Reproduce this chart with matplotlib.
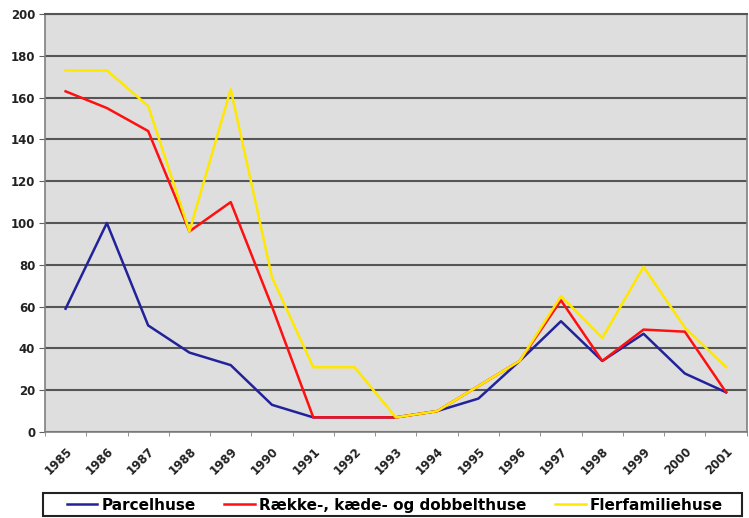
import matplotlib.pyplot as plt
from matplotlib.patches import Rectangle
import numpy as np


# Years on the category axis
years = [
    "1985", "1986", "1987", "1988", "1989", "1990",
    "1991", "1992", "1993", "1994", "1995", "1996",
    "1997", "1998", "1999", "2000", "2001"
]

# Series values
parcelhuse = [
    59, 100, 51, 38, 32, 13, 7, 7, 7,
    10, 16, 34, 53, 34, 47, 28, 19
]

raekkehuse = [
    163, 155, 144, 96, 110, 60, 7, 7, 7,
    10, 22, 34, 63, 34, 49, 48, 19
]

flerfamiliehuse = [
    173, 173, 156, 96, 164, 74, 31, 31, 7,
    10, 22, 34, 65, 45, 79, 50, 31
]

series_names = [
    "Parcelhuse",
    "Række-, kæde- og dobbelthuse",
    "Flerfamiliehuse"
]

y_ticks = list(range(0, 201, 20))


def draw_chart():
    """
    Draw the three housing
    series as an Excel-style
    line chart.
    """

    fig = plt.figure(
        figsize=(7.49, 5.18),
        dpi=100
    )

    ax = fig.add_axes(
        [0.060, 0.166, 0.937, 0.807]
    )

    # Dithered grey plot area
    ax.set_facecolor("#dedede")

    x = np.arange(len(years))

    colors = ["#22229a", "#ff1010", "#ffe800"]
    values = [parcelhuse, raekkehuse, flerfamiliehuse]

    for vals, color, name in zip(
        values, colors, series_names
    ):
        ax.plot(
            x,
            vals,
            color=color,
            linewidth=1.8,
            label=name,
            zorder=3
        )

    ax.set_xlim(-0.5, len(years) - 0.5)
    ax.set_ylim(0, 200)

    ax.set_yticks(y_ticks)
    ax.set_yticklabels(
        [str(v) for v in y_ticks],
        fontsize=8.5,
        fontweight="bold",
        color="#222222"
    )

    # Labels at category centres,
    # ticks between categories
    ax.set_xticks(x)
    ax.set_xticklabels(
        years,
        rotation=45,
        ha="right",
        rotation_mode="anchor",
        fontsize=8.5,
        fontweight="bold",
        color="#222222"
    )
    ax.set_xticks(
        np.arange(-0.5, len(years), 1.0),
        minor=True
    )
    ax.tick_params(
        axis="x",
        which="major",
        length=0,
        pad=9
    )
    ax.tick_params(
        axis="x",
        which="minor",
        length=3,
        color="#808080"
    )
    ax.tick_params(
        axis="y",
        length=4,
        color="#606060",
        pad=3
    )

    ax.yaxis.grid(
        True,
        color="#555555",
        linewidth=1.5
    )
    ax.set_axisbelow(True)

    for side in ["left", "right", "bottom"]:
        ax.spines[side].set_color("#808080")
        ax.spines[side].set_linewidth(1.2)
    ax.spines["top"].set_color("#555555")
    ax.spines["top"].set_linewidth(1.5)

    # Legend entries, frame drawn separately
    fig.legend(
        loc="center",
        bbox_to_anchor=(0.527, 0.025),
        ncol=3,
        prop={"size": 11, "weight": "bold"},
        frameon=False,
        handlelength=2.0,
        handletextpad=0.25,
        columnspacing=1.9,
        borderpad=0
    )

    fig.add_artist(
        Rectangle(
            (0.058, 0.003),
            0.933,
            0.045,
            transform=fig.transFigure,
            fill=False,
            edgecolor="#222222",
            linewidth=1.5
        )
    )

    plt.savefig("out.png", dpi=100)


draw_chart()
